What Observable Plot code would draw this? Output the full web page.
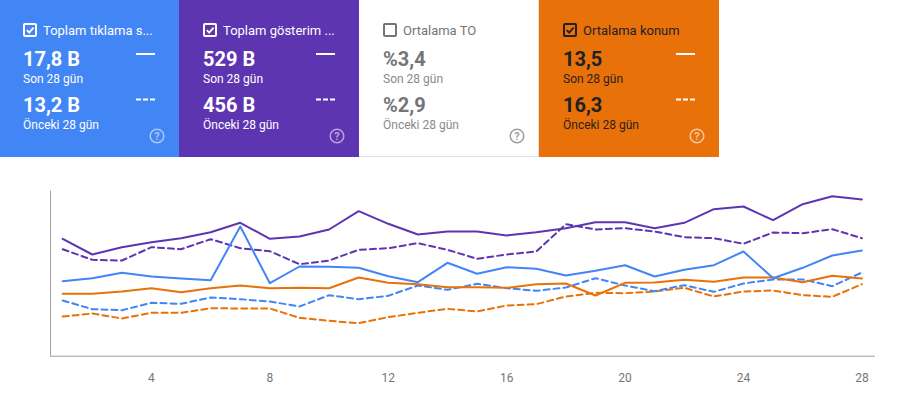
<!DOCTYPE html>
<html><head><meta charset="utf-8">
<script src="https://cdn.jsdelivr.net/npm/d3@7"></script>
<script src="https://cdn.jsdelivr.net/npm/@observablehq/plot@0.6"></script>
<style>
html,body{margin:0;padding:0;background:#fff;}
body{width:910px;height:408px;overflow:hidden;position:relative;font-family:Roboto,"Noto Sans",sans-serif;}
#cards{position:absolute;left:0;top:0;}
#chart{position:absolute;left:0;top:160px;}
</style></head><body>
<div id="cards"></div>
<div id="chart"></div>
<script>
// ---- card data ----
const cardTitles = ["Toplam tıklama s...", "Toplam gösterim ...", "Ortalama TO", "Ortalama konum"];
const cardCurrent = ["17,8 B", "529 B", "%3,4", "13,5"];
const cardPrevious = ["13,2 B", "456 B", "%2,9", "16,3"];
const cardChecked = [true, true, false, true];
const cardBg = ["#4285F4", "#5E35B1", "#FFFFFF", "#E8710A"];
const cardFg = ["#FFFFFF", "#FFFFFF", "#757575", "#202124"];
const cardSub = ["#FFFFFF", "#FFFFFF", "#8a8a8a", "#2b2118"];
const cardIcon = ["rgba(255,255,255,0.55)", "rgba(255,255,255,0.55)", "#9e9e9e", "rgba(255,255,255,0.6)"];
const cardLegend = [true, true, false, true];
const labelCurrent = "Son 28 gün";
const labelPrevious = "Önceki 28 gün";

// ---- chart data (normalized index per metric) ----
const days = d3.range(1, 29);
const xTicks = [4, 8, 12, 16, 20, 24, 28];
const clicksCurrent = [75, 78, 83.4, 79.7, 77.7, 76, 129.7, 73, 89.7, 89.4, 88.4, 80, 74, 93.4, 82.4, 89, 87.4, 80.7, 85.4, 91, 79.7, 86.4, 91, 104.7, 78, 88.4, 100.7, 105.7];
const clicksPrevious = [55.7, 47, 46, 53.4, 52.4, 58.7, 57, 54.7, 49.7, 61, 57, 60.4, 70.7, 66.4, 72.4, 68, 65.4, 68.7, 78, 70.7, 65, 71, 64.4, 72.7, 76.7, 76.7, 70, 83.7];
const imprCurrent = [117.4, 101.7, 109, 114, 118, 124, 133.4, 117.4, 119.7, 126.7, 145, 132.4, 121.7, 124.7, 124.7, 120.7, 124, 128, 134, 134, 128, 133.4, 147, 149.7, 136, 152, 160, 156.7];
const imprPrevious = [107, 96.4, 95.7, 109, 107, 117, 108, 105, 92, 95.7, 106.4, 108, 113, 106.4, 97.4, 101.7, 104.7, 132, 126.7, 128, 124.7, 119, 118, 112.4, 123.7, 123, 127, 118];
const posCurrent = [62.4, 62.4, 64.7, 68, 64, 68, 70.7, 68, 68.4, 68, 78.7, 73.4, 72, 69, 69, 68.4, 72, 72.7, 60.7, 73.4, 73.7, 76.4, 74.4, 78.7, 78.7, 74, 80.4, 77.7];
const posPrevious = [39.7, 42.7, 37.7, 43.4, 43.4, 48, 47.7, 47.7, 38.4, 35.4, 33, 39, 43.4, 47.4, 44.7, 50.7, 52, 59.7, 63.4, 63, 64.7, 68.4, 59.7, 64.7, 65.7, 61, 59.4, 72];

// ---- cards ----
const cardLeft = [0, 179, 359, 539];
const svgC = d3.select("#cards").append("svg").attr("width", 720).attr("height", 158)
  .style("font-family", "Roboto, 'Noto Sans', sans-serif");
cardTitles.forEach((t, i) => {
  const bg = svgC.append("rect").attr("x", cardLeft[i]).attr("y", 0).attr("width", 180).attr("height", 157).attr("fill", cardBg[i]);
  if (cardBg[i] === "#FFFFFF") {
    svgC.append("line").attr("x1", cardLeft[i]).attr("x2", cardLeft[i] + 180).attr("y1", 156.5).attr("y2", 156.5).attr("stroke", "#e0e0e0");
    svgC.append("line").attr("x1", cardLeft[i] + 179.5).attr("x2", cardLeft[i] + 179.5).attr("y1", 0).attr("y2", 157).attr("stroke", "#e0e0e0");
  }
  const g = svgC.append("g").attr("transform", `translate(${i * 180},0)`);
  // checkbox
  g.append("rect").attr("x", 24).attr("y", 24).attr("width", 12).attr("height", 12).attr("rx", 1)
    .attr("fill", "none").attr("stroke", cardFg[i]).attr("stroke-width", 2);
  if (cardChecked[i]) {
    g.append("path").attr("d", "M26.8 30.2 L29.2 32.6 L33.6 27.6").attr("fill", "none")
      .attr("stroke", cardFg[i]).attr("stroke-width", 1.8);
  }
  g.append("text").attr("x", 43).attr("y", 35).attr("fill", cardFg[i]).attr("font-size", 13).text(t);
  g.append("text").attr("x", 23).attr("y", 66).attr("fill", cardFg[i]).attr("font-size", 20).attr("font-weight", 700).text(cardCurrent[i]);
  g.append("text").attr("x", 23).attr("y", 82.7).attr("fill", cardSub[i]).attr("font-size", 12).text(labelCurrent);
  g.append("text").attr("x", 23).attr("y", 111.7).attr("fill", cardFg[i]).attr("font-size", 20).attr("font-weight", 700).text(cardPrevious[i]);
  g.append("text").attr("x", 23).attr("y", 128.7).attr("fill", cardSub[i]).attr("font-size", 12).text(labelPrevious);
  if (cardLegend[i]) {
    g.append("line").attr("x1", 136).attr("x2", 155).attr("y1", 54).attr("y2", 54).attr("stroke", "#fff").attr("stroke-width", 2);
    g.append("line").attr("x1", 136).attr("x2", 155).attr("y1", 99.5).attr("y2", 99.5).attr("stroke", "#fff").attr("stroke-width", 2).attr("stroke-dasharray", "5 2");
  }
  g.append("circle").attr("cx", 157).attr("cy", 136).attr("r", 6.8).attr("fill", "none").attr("stroke", cardIcon[i]).attr("stroke-width", 1.5);
  g.append("text").attr("x", 157).attr("y", 140).attr("text-anchor", "middle").attr("font-size", 11).attr("font-weight", 700).attr("fill", cardIcon[i]).text("?");
});

// ---- chart ----
const xDomain = [0.588, 28.46];
const blue = "#4285F4", purple = "#5E35B1", orange = "#E8710A";
const dash = "6 4";
const chart = Plot.plot({
  width: 910,
  height: 248,
  marginLeft: 50,
  marginRight: 35,
  marginTop: 30.7,
  marginBottom: 52.3,
  style: {fontFamily: "Roboto, 'Noto Sans', sans-serif", fontSize: "12px", background: "#fff"},
  x: {domain: xDomain},
  y: {domain: [0, 165], axis: null},
  marks: [
    Plot.ruleY([0], {stroke: "#9e9e9e", strokeWidth: 1}),
    Plot.ruleX([xDomain[0]], {stroke: "#9e9e9e", strokeWidth: 1}),
    Plot.axisX({ticks: xTicks, tickSize: 0, tickPadding: 17, tickFormat: d => String(d), fill: "#757575", fontSize: 12}),
    Plot.lineY(posPrevious, {x: days, y: d => d, stroke: orange, strokeWidth: 2, strokeDasharray: dash}),
    Plot.lineY(clicksPrevious, {x: days, y: d => d, stroke: blue, strokeWidth: 2, strokeDasharray: dash}),
    Plot.lineY(imprPrevious, {x: days, y: d => d, stroke: purple, strokeWidth: 2, strokeDasharray: dash}),
    Plot.lineY(posCurrent, {x: days, y: d => d, stroke: orange, strokeWidth: 2}),
    Plot.lineY(clicksCurrent, {x: days, y: d => d, stroke: blue, strokeWidth: 2}),
    Plot.lineY(imprCurrent, {x: days, y: d => d, stroke: purple, strokeWidth: 2})
  ]
});
document.getElementById("chart").appendChild(chart);
</script>
</body></html>
